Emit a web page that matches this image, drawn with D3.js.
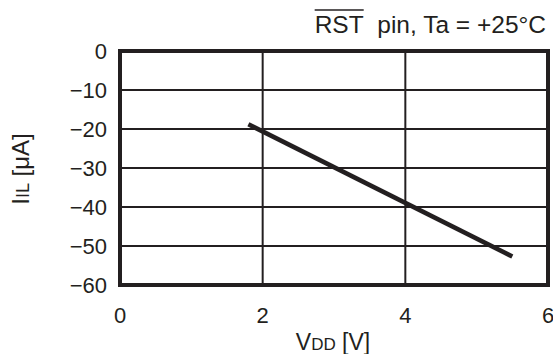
<!DOCTYPE html>
<html>
<head>
<meta charset="utf-8">
<script src="https://cdn.jsdelivr.net/npm/d3@7"></script>
<style>
  body { margin: 0; background: #fff; }
  text { font-family: "Liberation Sans", Arial, sans-serif; fill: #231f20; }
</style>
</head>
<body>
<div id="chart"></div>
<script>
// data
var vdd = [1.8, 5.5];
var iil = [-18.8, -52.7];
var xTicks = [0, 2, 4, 6];
var yTicks = [0, -10, -20, -30, -40, -50, -60];

var width = 553;
var height = 354;
var plotLeft = 120, plotRight = 548, plotTop = 51, plotBottom = 285;

var svg = d3.select("#chart")
    .append("svg")
      .attr("width", width)
      .attr("height", height);

var x = d3.scaleLinear()
    .domain([0, 6])
    .range([plotLeft, plotRight]);

var y = d3.scaleLinear()
    .domain([-60, 0])
    .range([plotBottom, plotTop]);

// grid lines
svg.append("g")
    .selectAll("line")
    .data(xTicks.slice(1, -1))
    .enter()
    .append("line")
      .attr("x1", function(d) { return x(d); })
      .attr("x2", function(d) { return x(d); })
      .attr("y1", plotTop)
      .attr("y2", plotBottom)
      .style("stroke", "#231f20")
      .style("stroke-width", 2);

svg.append("g")
    .selectAll("line")
    .data(yTicks.slice(1, -1))
    .enter()
    .append("line")
      .attr("x1", plotLeft)
      .attr("x2", plotRight)
      .attr("y1", function(d) { return y(d); })
      .attr("y2", function(d) { return y(d); })
      .style("stroke", "#231f20")
      .style("stroke-width", 2);

// frame
svg.append("rect")
    .attr("x", plotLeft)
    .attr("y", plotTop)
    .attr("width", plotRight - plotLeft)
    .attr("height", plotBottom - plotTop)
    .style("fill", "none")
    .style("stroke", "#231f20")
    .style("stroke-width", 4);

// tick labels
svg.append("g")
    .selectAll("text")
    .data(yTicks)
    .enter()
    .append("text")
      .attr("x", 107)
      .attr("y", function(d) { return y(d) + 8; })
      .attr("text-anchor", "end")
      .style("font-size", "22px")
      .text(function(d) { return d === 0 ? "0" : "\u2212" + Math.abs(d); });

svg.append("g")
    .selectAll("text")
    .data(xTicks)
    .enter()
    .append("text")
      .attr("x", function(d) { return x(d); })
      .attr("y", 323)
      .attr("text-anchor", "middle")
      .style("font-size", "22px")
      .text(function(d) { return d; });

// data line
var line = d3.line()
    .x(function(d) { return x(d[0]); })
    .y(function(d) { return y(d[1]); });

svg.append("path")
    .datum(d3.zip(vdd, iil))
    .attr("d", line)
    .style("fill", "none")
    .style("stroke", "#231f20")
    .style("stroke-width", 4.5);

// axis titles
var xt = svg.append("text")
    .attr("x", x(3) - 1)
    .attr("y", 350)
    .attr("text-anchor", "middle")
    .style("font-size", "23px");
xt.append("tspan").text("V");
xt.append("tspan").style("font-size", "17px").text("DD");
xt.append("tspan").text(" [V]");

var yt = svg.append("text")
    .attr("transform", "translate(29," + 169 + ") rotate(-90)")
    .attr("text-anchor", "middle")
    .style("font-size", "24px");
yt.append("tspan").text("I");
yt.append("tspan").style("font-size", "18px").text("IL");
yt.append("tspan").text(" [\u03bcA]");

// title
var title = svg.append("text")
    .attr("x", 546)
    .attr("y", 33)
    .attr("text-anchor", "end")
    .style("font-size", "24.5px");
title.append("tspan").attr("id", "rst").text("RST");
title.append("tspan").text("\u00a0\u00a0pin, Ta = +25\u00b0C");

var bb = document.getElementById("rst").getBBox();
svg.append("line")
    .attr("x1", bb.x)
    .attr("x2", bb.x + bb.width)
    .attr("y1", 10)
    .attr("y2", 10)
    .style("stroke", "#231f20")
    .style("stroke-width", 1.5);
</script>
</body>
</html>
